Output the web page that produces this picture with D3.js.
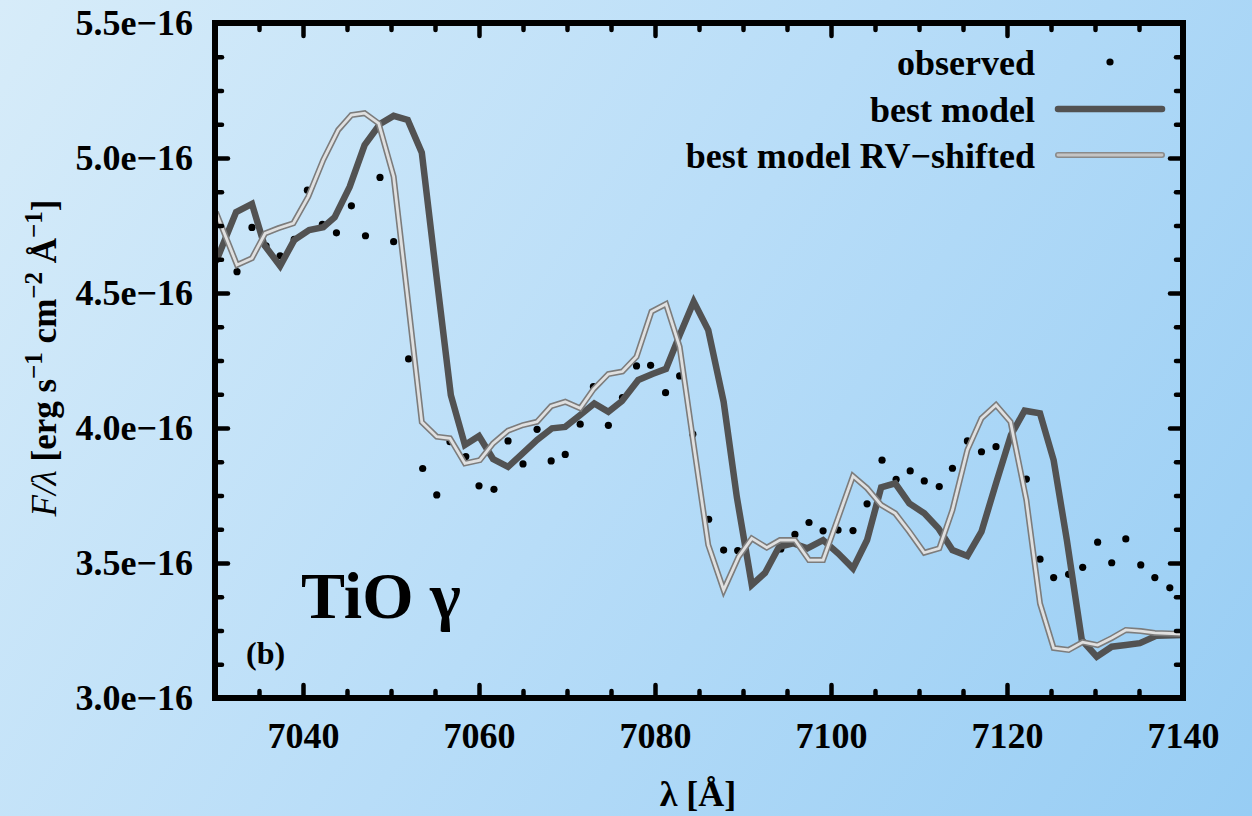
<!DOCTYPE html>
<html>
<head>
<meta charset="utf-8">
<script src="https://cdn.jsdelivr.net/npm/d3@7"></script>
<style>
  html, body { margin: 0; padding: 0; }
  body { width: 1252px; height: 816px; overflow: hidden; }
  svg { display: block; }
  text { font-family: "Liberation Serif", "Times New Roman", serif; font-weight: bold; fill: #000; }
</style>
</head>
<body>
<svg id="chart" width="1252" height="816"></svg>
<script>
// ---------- data (flux in units of 1e-16 erg s^-1 cm^-2 Å^-1) ----------
const obsLambda = [7032.5, 7034.2, 7035.8, 7037.4, 7039.0, 7040.5, 7042.2, 7043.8, 7045.5, 7047.1,
  7048.75, 7050.3, 7052.0, 7053.6, 7055.2, 7056.7, 7058.5, 7060.0, 7061.7, 7063.3,
  7065.0, 7066.6, 7068.2, 7069.8, 7071.5, 7073.0, 7074.7, 7076.3, 7077.9, 7079.5,
  7081.2, 7082.8, 7084.3, 7086.1, 7087.8, 7089.4, 7094.3, 7095.9, 7097.5, 7099.1,
  7100.8, 7102.5, 7104.1, 7105.8, 7107.4, 7109.0, 7110.6, 7112.3, 7113.8, 7115.5,
  7117.1, 7118.75, 7122.2, 7123.75, 7125.3, 7127.0, 7128.6, 7130.3, 7131.9, 7133.5,
  7135.2, 7136.8, 7138.5];
const obsFlux = [4.579, 4.743, 4.675, 4.638, 4.699, 4.881, 4.754, 4.723, 4.823, 4.712,
  4.928, 4.690, 4.256, 3.850, 3.752, 3.949, 3.894, 3.786, 3.773, 3.952,
  3.867, 3.995, 3.878, 3.902, 4.014, 4.153, 4.010, 4.113, 4.230, 4.232,
  4.131, 4.193, 3.977, 3.662, 3.548, 3.546, 3.552, 3.606, 3.650, 3.619,
  3.622, 3.620, 3.719, 3.881, 3.810, 3.841, 3.804, 3.783, 3.851, 3.952,
  3.912, 3.931, 3.811, 3.514, 3.446, 3.458, 3.484, 3.577, 3.501, 3.589,
  3.493, 3.446, 3.408];

const bestLambda = [7030.1, 7032.4, 7034.2, 7035.6, 7037.4, 7039.0, 7040.7, 7042.3, 7043.6, 7045.3,
  7047.0, 7048.75, 7050.3, 7051.9, 7053.5, 7055.1, 7056.8, 7058.4, 7060.0, 7061.6,
  7063.3, 7064.9, 7066.6, 7068.3, 7069.8, 7071.5, 7073.1, 7074.7, 7076.25, 7078.1,
  7079.7, 7081.25, 7082.8, 7084.4, 7086.05, 7087.8, 7089.3, 7091.0, 7092.5, 7094.1,
  7095.7, 7097.3, 7099.1, 7100.8, 7102.5, 7104.1, 7105.7, 7107.3, 7108.9, 7110.6,
  7112.2, 7113.8, 7115.5, 7117.1, 7118.75, 7120.45, 7122.0, 7123.75, 7125.3, 7126.8,
  7128.5, 7130.2, 7131.9, 7133.5, 7135.1, 7137.0, 7140.0];
const bestFlux = [4.615, 4.800, 4.830, 4.678, 4.600, 4.696, 4.733, 4.744, 4.781, 4.893,
  5.048, 5.126, 5.156, 5.141, 5.020, 4.580, 4.122, 3.937, 3.970, 3.885,
  3.856, 3.904, 3.956, 3.999, 4.004, 4.048, 4.091, 4.060, 4.100, 4.178,
  4.200, 4.219, 4.344, 4.468, 4.363, 4.097, 3.744, 3.419, 3.463, 3.560,
  3.573, 3.554, 3.585, 3.536, 3.480, 3.585, 3.780, 3.795, 3.721, 3.684,
  3.629, 3.548, 3.526, 3.616, 3.795, 3.974, 4.064, 4.054, 3.881, 3.585,
  3.215, 3.153, 3.190, 3.196, 3.203, 3.231, 3.233];

const shiftLambda = [7030.1, 7032.5, 7034.2, 7035.7, 7037.2, 7038.9, 7040.6, 7042.3, 7044.0, 7045.5,
  7047.0, 7048.6, 7050.3, 7051.8, 7053.5, 7055.2, 7056.7, 7058.4, 7060.1, 7061.6,
  7063.3, 7065.0, 7066.6, 7068.2, 7069.8, 7071.5, 7073.0, 7074.7, 7076.3, 7077.9,
  7079.6, 7081.25, 7082.8, 7084.4, 7086.05, 7087.8, 7089.5, 7091.0, 7092.7, 7094.2,
  7095.9, 7097.5, 7099.1, 7100.8, 7102.5, 7104.1, 7105.7, 7107.3, 7108.9, 7110.6,
  7112.3, 7113.8, 7115.5, 7117.1, 7118.75, 7120.4, 7122.2, 7123.75, 7125.3, 7127.0,
  7128.6, 7130.3, 7131.9, 7133.5, 7135.2, 7136.8, 7140.0];
const shiftFlux = [4.800, 4.604, 4.629, 4.721, 4.740, 4.758, 4.857, 4.993, 5.104, 5.159,
  5.166, 5.128, 4.931, 4.507, 4.022, 3.968, 3.962, 3.869, 3.881, 3.943,
  3.990, 4.011, 4.023, 4.081, 4.097, 4.073, 4.143, 4.200, 4.209, 4.264,
  4.431, 4.459, 4.301, 3.937, 3.567, 3.400, 3.523, 3.591, 3.557, 3.585,
  3.585, 3.511, 3.511, 3.666, 3.822, 3.777, 3.715, 3.684, 3.616, 3.538,
  3.554, 3.696, 3.919, 4.036, 4.085, 4.023, 3.733, 3.350, 3.185, 3.178,
  3.207, 3.196, 3.222, 3.252, 3.248, 3.241, 3.237];

const xMajorTicks = [7040, 7060, 7080, 7100, 7120, 7140];
const xTickLabels = ["7040", "7060", "7080", "7100", "7120", "7140"];
const yMajorTicks = [3.0, 3.5, 4.0, 4.5, 5.0, 5.5];
const yTickLabels = ["3.0e\u221216", "3.5e\u221216", "4.0e\u221216", "4.5e\u221216", "5.0e\u221216", "5.5e\u221216"];
const xMinorTicks = [7035, 7045, 7050, 7055, 7065, 7070, 7075, 7085, 7090, 7095, 7105, 7110, 7115, 7125, 7130, 7135];
const yMinorTicks = [3.125, 3.25, 3.375, 3.625, 3.75, 3.875, 4.125, 4.25, 4.375, 4.625, 4.75, 4.875, 5.125, 5.25, 5.375];
const legendLabels = ["observed", "best model", "best model RV\u2212shifted"];

// ---------- layout ----------
const W = 1252, H = 816;
const L = 215, R = 1183, T = 23, B = 698;
const svg = d3.select("#chart");

// background gradient
const defs = svg.append("defs");
const grad = defs.append("linearGradient").attr("id", "bg")
  .attr("gradientUnits", "userSpaceOnUse")
  .attr("x1", 0).attr("y1", 0).attr("x2", W).attr("y2", H);
grad.append("stop").attr("offset", "0%").attr("stop-color", "#d7ecf9");
grad.append("stop").attr("offset", "50%").attr("stop-color", "#b8ddf8");
grad.append("stop").attr("offset", "100%").attr("stop-color", "#97cdf4");
svg.append("rect").attr("width", W).attr("height", H).attr("fill", "url(#bg)");

const x = d3.scaleLinear().domain([7030, 7140]).range([L, R]);
const y = d3.scaleLinear().domain([3.0, 5.5]).range([B, T]);

const plot = svg.append("g");
plot.append("clipPath").attr("id", "clip").append("rect")
  .attr("x", L).attr("y", T).attr("width", R - L).attr("height", B - T);
const inner = plot.append("g").attr("clip-path", "url(#clip)");

// observed points
inner.selectAll("circle.obs").data(obsLambda.map((l, i) => [l, obsFlux[i]]))
  .enter().append("circle").attr("class", "obs")
  .attr("cx", d => x(d[0])).attr("cy", d => y(d[1])).attr("r", 3.6).attr("fill", "#000");

const line = d3.line().x(d => x(d[0])).y(d => y(d[1]));
const bestData = bestLambda.map((l, i) => [l, bestFlux[i]]);
const shiftData = shiftLambda.map((l, i) => [l, shiftFlux[i]]);

inner.append("path").datum(bestData).attr("d", line)
  .attr("fill", "none").attr("stroke", "#525252").attr("stroke-width", 6.5)
  .attr("stroke-linejoin", "miter");
inner.append("path").datum(shiftData).attr("d", line)
  .attr("fill", "none").attr("stroke", "#7c7c7c").attr("stroke-width", 6)
  .attr("stroke-linejoin", "miter");
inner.append("path").datum(shiftData).attr("d", line)
  .attr("fill", "none").attr("stroke", "#e0e0e0").attr("stroke-width", 2.8)
  .attr("stroke-linejoin", "miter");

// ---------- axes ----------
const tickW = 4.5, majLen = 13, minLen = 7;
function styleAxis(g) {
  g.select(".domain").remove();
  g.selectAll(".tick line").attr("stroke", "#000").attr("stroke-width", tickW).attr("stroke-linecap", "round");
  g.selectAll("text").style("font-size", "36px").attr("fill", "#000")
    .style("font-family", '"Liberation Serif", "Times New Roman", serif').style("font-weight", "bold");
}
// bottom
svg.append("g").attr("transform", `translate(0,${B})`)
  .call(d3.axisBottom(x).tickValues(xMajorTicks).tickSize(-majLen).tickPadding(24)
    .tickFormat((d, i) => xTickLabels[i]))
  .call(styleAxis);
svg.append("g").attr("transform", `translate(0,${B})`)
  .call(d3.axisBottom(x).tickValues(xMinorTicks).tickSize(-minLen).tickFormat(""))
  .call(styleAxis);
// top
svg.append("g").attr("transform", `translate(0,${T})`)
  .call(d3.axisTop(x).tickValues(xMajorTicks).tickSize(-majLen).tickFormat(""))
  .call(styleAxis);
svg.append("g").attr("transform", `translate(0,${T})`)
  .call(d3.axisTop(x).tickValues(xMinorTicks).tickSize(-minLen).tickFormat(""))
  .call(styleAxis);
// left
svg.append("g").attr("transform", `translate(${L},0)`)
  .call(d3.axisLeft(y).tickValues(yMajorTicks).tickSize(-majLen).tickPadding(22)
    .tickFormat((d, i) => yTickLabels[i]))
  .call(styleAxis);
svg.append("g").attr("transform", `translate(${L},0)`)
  .call(d3.axisLeft(y).tickValues(yMinorTicks).tickSize(-minLen).tickFormat(""))
  .call(styleAxis);
// right
svg.append("g").attr("transform", `translate(${R},0)`)
  .call(d3.axisRight(y).tickValues(yMajorTicks).tickSize(-majLen).tickFormat(""))
  .call(styleAxis);
svg.append("g").attr("transform", `translate(${R},0)`)
  .call(d3.axisRight(y).tickValues(yMinorTicks).tickSize(-minLen).tickFormat(""))
  .call(styleAxis);

// frame
svg.append("rect").attr("x", L).attr("y", T).attr("width", R - L).attr("height", B - T)
  .attr("fill", "none").attr("stroke", "#000").attr("stroke-width", 6);

// ---------- axis titles ----------
svg.append("text").attr("x", 698).attr("y", 806).attr("text-anchor", "middle")
  .style("font-size", "36px").text("\u03bb [\u00c5]");

const yt = svg.append("text").attr("transform", "translate(56,358) rotate(-90)")
  .attr("text-anchor", "middle").style("font-size", "35px");
yt.append("tspan").style("font-style", "italic").style("font-weight", "normal").text("F/\u03bb");
yt.append("tspan").text(" [erg s");
yt.append("tspan").attr("dy", -14).style("font-size", "25px").text("\u22121");
yt.append("tspan").attr("dy", 14).text(" cm");
yt.append("tspan").attr("dy", -14).style("font-size", "25px").text("\u22122");
yt.append("tspan").attr("dy", 14).text(" \u00c5");
yt.append("tspan").attr("dy", -14).style("font-size", "25px").text("\u22121");
yt.append("tspan").attr("dy", 14).text("]");

// ---------- annotations ----------
svg.append("text").attr("x", 246).attr("y", 664).style("font-size", "32px").text("(b)");
svg.append("text").attr("x", 301).attr("y", 618).style("font-size", "66px").text("TiO \u03b3");

// ---------- legend ----------
const legX = 1035, lineX0 = 1058, lineX1 = 1162;
const legY = [75, 122, 168];
const leg = svg.append("g");
legendLabels.forEach((lab, i) => {
  leg.append("text").attr("x", legX).attr("y", legY[i]).attr("text-anchor", "end")
    .style("font-size", "36px").text(lab);
});
leg.append("circle").attr("cx", (lineX0 + lineX1) / 2).attr("cy", legY[0] - 13).attr("r", 3.6).attr("fill", "#000");
leg.append("line").attr("x1", lineX0).attr("x2", lineX1).attr("y1", legY[1] - 13).attr("y2", legY[1] - 13)
  .attr("stroke", "#525252").attr("stroke-width", 6.5).attr("stroke-linecap", "round");
leg.append("line").attr("x1", lineX0).attr("x2", lineX1).attr("y1", legY[2] - 13).attr("y2", legY[2] - 13)
  .attr("stroke", "#8a8a8a").attr("stroke-width", 6).attr("stroke-linecap", "round");
leg.append("line").attr("x1", lineX0).attr("x2", lineX1).attr("y1", legY[2] - 13).attr("y2", legY[2] - 13)
  .attr("stroke", "#c4c4c4").attr("stroke-width", 2.8).attr("stroke-linecap", "round");
</script>
</body>
</html>
